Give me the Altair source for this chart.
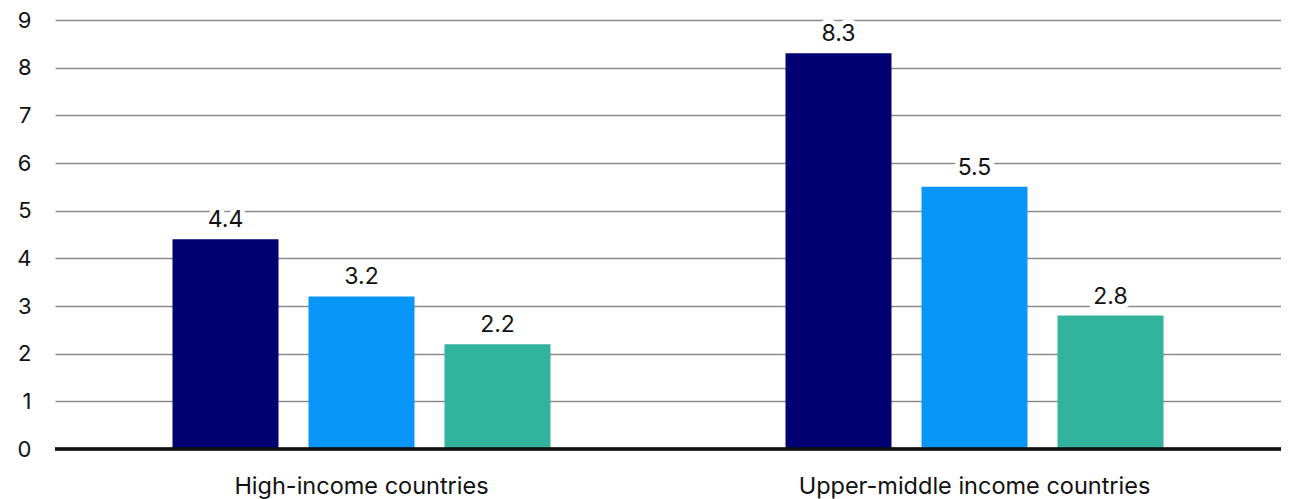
import altair as alt
import pandas as pd

categories = ["High-income countries", "Upper-middle income countries"]
series = ["Series A", "Series B", "Series C"]
values_a = [4.4, 8.3]
values_b = [3.2, 5.5]
values_c = [2.2, 2.8]
colors = ["#000072", "#0897F9", "#31B39E"]

rows = []
for s, vals in zip(series, [values_a, values_b, values_c]):
    for c, v in zip(categories, vals):
        rows.append({"category": c, "series": s, "value": v})
df = pd.DataFrame(rows)

FONT = "Inter"
FS = 22
FS_X = 23.5
FS_V = 23

x = alt.X("category:N", sort=categories, title=None,
          scale=alt.Scale(paddingInner=0, paddingOuter=0),
          axis=alt.Axis(labelAngle=0, labelFontSize=FS_X, labelColor="#111",
                        labelPadding=25, labelLimit=1000, ticks=False, domain=False,
                        labelFont=FONT))
xo = alt.XOffset("series:N", sort=series,
                 scale=alt.Scale(paddingInner=0.2206, paddingOuter=0.864))
y = alt.Y("value:Q", title=None,
          scale=alt.Scale(domain=[0, 9], nice=False),
          axis=alt.Axis(values=list(range(10)), labelFontSize=FS, labelColor="#111",
                        labelPadding=24, ticks=False, domain=False,
                        gridColor="#8a8a8a", gridWidth=1.7, labelFont=FONT))

bars = alt.Chart(df).mark_bar(stroke=None).encode(
    x=x, xOffset=xo, y=y,
    color=alt.Color("series:N", sort=series,
                    scale=alt.Scale(domain=series, range=colors), legend=None),
)

halo = alt.Chart(df).mark_text(baseline="alphabetic", dy=-12, fontSize=FS_V, font=FONT,
                               stroke="white", strokeWidth=10, color="white").encode(
    x=x, xOffset=xo, y=y, text=alt.Text("value:Q", format=".1f"))

labels = alt.Chart(df).mark_text(baseline="alphabetic", dy=-12, fontSize=FS_V, font=FONT,
                                 color="#111").encode(
    x=x, xOffset=xo, y=y, text=alt.Text("value:Q", format=".1f"))

base_line = alt.Chart(df).mark_rule(color="#111", strokeWidth=2.5).encode(
    y=alt.datum(0), x=alt.value(0), x2=alt.value(1226))

chart = alt.layer(bars, halo, labels, base_line).properties(
    width=1226, height=429,
    autosize=alt.AutoSizeParams(type="none"),
    padding={"left": 47, "top": 12, "right": 0, "bottom": 60},
).configure_view(stroke=None)

chart.save("out.html", embed_options={"renderer": "svg", "actions": False})
